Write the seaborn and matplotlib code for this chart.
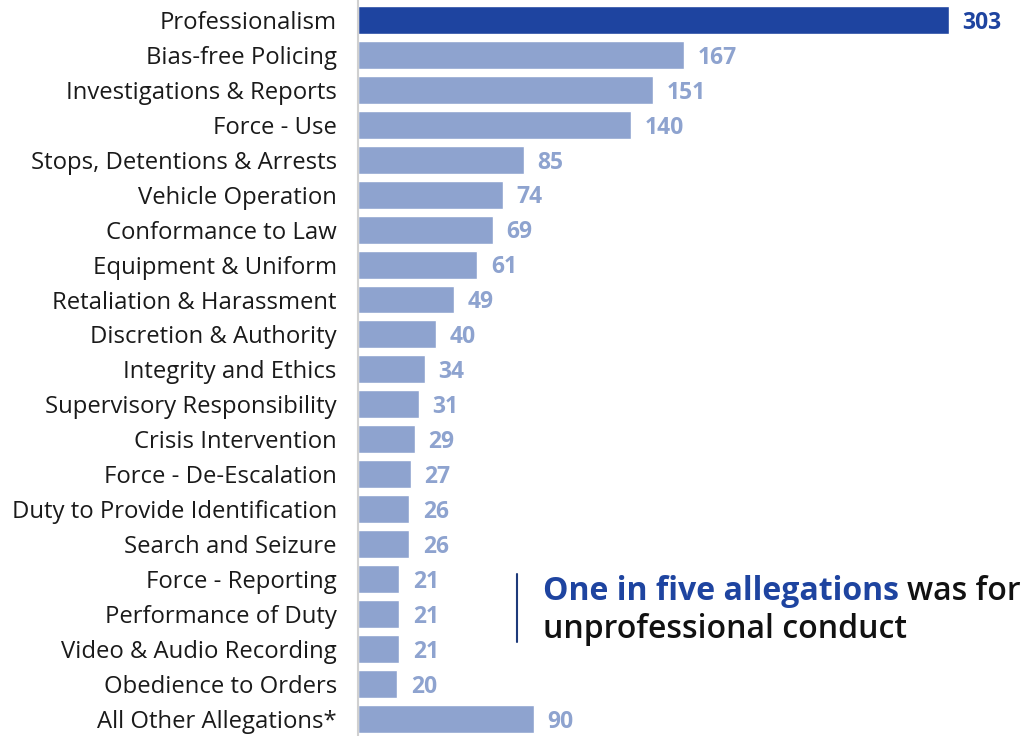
import matplotlib
matplotlib.use("Agg")
import matplotlib.pyplot as plt
import seaborn as sns
import pandas as pd

categories = [
    "Professionalism", "Bias-free Policing", "Investigations & Reports", "Force - Use",
    "Stops, Detentions & Arrests", "Vehicle Operation", "Conformance to Law",
    "Equipment & Uniform", "Retaliation & Harassment", "Discretion & Authority",
    "Integrity and Ethics", "Supervisory Responsibility", "Crisis Intervention",
    "Force - De-Escalation", "Duty to Provide Identification", "Search and Seizure",
    "Force - Reporting", "Performance of Duty", "Video & Audio Recording",
    "Obedience to Orders", "All Other Allegations*",
]
counts = [303, 167, 151, 140, 85, 74, 69, 61, 49, 40, 34, 31, 29, 27, 26, 26, 21, 21, 21, 20, 90]

DARK = "#1E44A0"
LIGHT = "#8EA3CF"
colors = [DARK] + [LIGHT] * (len(categories) - 1)

sns.set_theme(style="white")
plt.rcParams["font.family"] = ["Open Sans", "DejaVu Sans"]

df = pd.DataFrame({"category": categories, "count": counts})

fig = plt.figure(figsize=(10.24, 7.36), dpi=100)
ax = fig.add_axes([0.35, 0.0, 0.63, 1.0])
sns.barplot(data=df, y="category", x="count", hue="category", palette=colors,
            legend=False, width=0.8, ax=ax, orient="h", saturation=1)

ax.set_xlim(0, 331)
ax.set_ylim(len(categories) - 0.51, -0.57)
ax.set_xlabel("")
ax.set_ylabel("")
ax.set_xticks([])
ax.tick_params(axis="y", length=0, pad=15.5, labelsize=17.2, labelcolor="#1a1a1a")
for s in ["top", "right", "bottom"]:
    ax.spines[s].set_visible(False)
ax.spines["left"].set_color("#d0d0d0")
ax.spines["left"].set_linewidth(1.5)

for i, (v, c) in enumerate(zip(counts, colors)):
    ax.text(v + 7, i + 0.08, str(v), va="center", ha="left", fontsize=16.5,
            fontweight="bold", color=c)

# callout
fig.add_artist(plt.Line2D([517 / 1024, 517 / 1024], [1 - 574 / 736, 1 - 642 / 736],
                          color="#1E3A7A", lw=1.5))
t1 = fig.text(543 / 1024, 1 - 591 / 736, "One in five allegations", fontsize=23,
              fontweight="bold", color=DARK, va="center", ha="left")
fig.canvas.draw()
bb = t1.get_window_extent()
fig.text(bb.x1 / 1024 + 0.008, 1 - 591 / 736, "was for", fontsize=23,
         fontweight="semibold", color="#111111", va="center", ha="left")
fig.text(543 / 1024, 1 - 629 / 736, "unprofessional conduct", fontsize=23,
         fontweight="semibold", color="#111111", va="center", ha="left")

fig.savefig("out.png", dpi=100)
